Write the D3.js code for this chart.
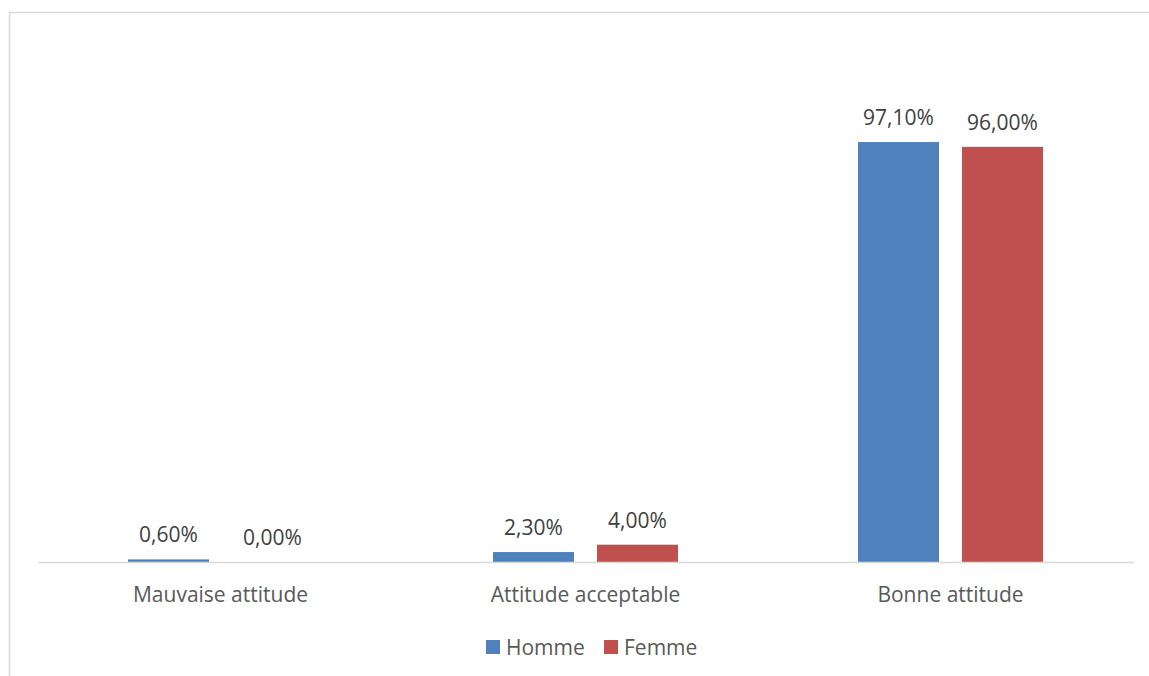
<!DOCTYPE html>
<html>
<head>
<meta charset="utf-8">
<script src="https://cdn.jsdelivr.net/npm/d3@7"></script>
<style>
  html, body { margin: 0; padding: 0; background: #fff; }
  svg { display: block; font-family: "Open Sans", sans-serif; }
</style>
</head>
<body>
<svg id="chart" width="1149" height="676"></svg>
<script>
// Attitude by sex (percent)
const categories = ["Mauvaise attitude", "Attitude acceptable", "Bonne attitude"];
const series = ["Homme", "Femme"];
const hommeValues = [0.6, 2.3, 97.1];
const femmeValues = [0.0, 4.0, 96.0];
const valueLabels = {
  Homme: ["0,60%", "2,30%", "97,10%"],
  Femme: ["0,00%", "4,00%", "96,00%"]
};
const colors = { Homme: "#4F81BD", Femme: "#C0504D" };

const data = categories.map((c, i) => ({
  category: c,
  values: [
    { key: "Homme", value: hommeValues[i], label: valueLabels.Homme[i] },
    { key: "Femme", value: femmeValues[i], label: valueLabels.Femme[i] }
  ]
}));

const svg = d3.select("#chart");

// chart frame
svg.append("rect")
  .attr("x", 9.5).attr("y", 12.5)
  .attr("width", 1160).attr("height", 700)
  .attr("fill", "none")
  .attr("stroke", "#d9d9d9")
  .attr("stroke-width", 1.5);

const plot = { left: 38, right: 1133, baseline: 562, top: 43 };

const x0 = d3.scaleBand()
  .domain(categories)
  .range([plot.left, plot.right])
  .padding(0);

const x1 = d3.scaleBand()
  .domain(series)
  .range([90, 275])
  .paddingInner(23 / 104)
  .paddingOuter(0);

const y = d3.scaleLinear()
  .domain([0, 120])
  .range([plot.baseline, plot.top]);

const groups = svg.append("g").selectAll("g")
  .data(data)
  .join("g")
  .attr("transform", d => `translate(${x0(d.category)},0)`);

groups.selectAll("rect")
  .data(d => d.values)
  .join("rect")
  .attr("x", d => x1(d.key))
  .attr("y", d => y(d.value))
  .attr("width", x1.bandwidth())
  .attr("height", d => y(0) - y(d.value))
  .attr("fill", d => colors[d.key]);

groups.selectAll("text.val")
  .data(d => d.values)
  .join("text")
  .attr("class", "val")
  .attr("x", d => x1(d.key) + x1.bandwidth() / 2)
  .attr("y", d => y(d.value) - 17)
  .attr("text-anchor", "middle")
  .attr("font-size", 21)
  .attr("fill", "#404040")
  .text(d => d.label);

// category axis
const xAxis = svg.append("g")
  .attr("transform", `translate(0,${plot.baseline})`)
  .call(d3.axisBottom(x0).tickSize(0).tickPadding(0));
xAxis.select(".domain").attr("stroke", "#d9d9d9").attr("stroke-width", 1.5);
xAxis.selectAll(".tick text")
  .attr("dy", null)
  .attr("y", 40)
  .attr("font-size", 21)
  .attr("font-family", "Open Sans, sans-serif")
  .attr("fill", "#595959");

// legend
const legendItems = [
  { key: "Homme", x: 486 },
  { key: "Femme", x: 604 }
];
const legend = svg.append("g").selectAll("g")
  .data(legendItems)
  .join("g")
  .attr("transform", d => `translate(${d.x},640)`);
legend.append("rect")
  .attr("width", 14).attr("height", 14)
  .attr("fill", d => colors[d.key]);
legend.append("text")
  .attr("x", 20).attr("y", 15)
  .attr("font-size", 21)
  .attr("fill", "#595959")
  .text(d => d.key);
</script>
</body>
</html>
